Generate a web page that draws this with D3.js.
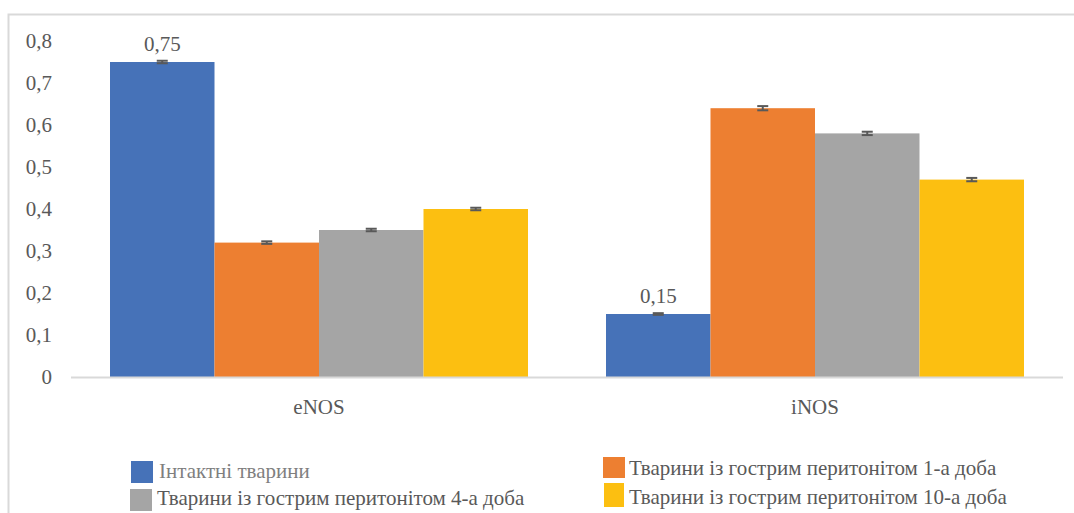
<!DOCTYPE html>
<html><head><meta charset="utf-8">
<script src="https://cdn.jsdelivr.net/npm/d3@7"></script>
</head><body style="margin:0">
<script>
const categories = ["eNOS", "iNOS"];
const seriesNames = ["Інтактні тварини", "Тварини із гострим перитонітом 1-а доба", "Тварини із гострим перитонітом 4-а доба", "Тварини із гострим перитонітом 10-а доба"];
const seriesColors = ["#4672b8", "#ed7f31", "#a5a5a5", "#fcbf11"];
const eNOSValues = [0.75, 0.32, 0.35, 0.40];
const iNOSValues = [0.15, 0.64, 0.58, 0.47];
const eNOSErrors = [0.003, 0.003, 0.003, 0.003];
const iNOSErrors = [0.002, 0.005, 0.004, 0.004];
const dataLabels = [["0,75", null, null, null], ["0,15", null, null, null]];
const yTicks = [0, 0.1, 0.2, 0.3, 0.4, 0.5, 0.6, 0.7, 0.8];

const values = [eNOSValues, iNOSValues];
const errors = [eNOSErrors, iNOSErrors];
const W = 1074, H = 513;
const svg = d3.select("body").append("svg").attr("width", W).attr("height", H)
  .style("display", "block").attr("font-family", "Times New Roman");
const txt = "#595959";
const fs = 21;

function addText(sel) {
  return sel.append("text").style("font-family", "Times New Roman").style("font-size", fs + "px").attr("fill", txt);
}

svg.append("rect").attr("x", 8.5).attr("y", 14.5).attr("width", 1100).attr("height", 600)
  .attr("fill", "none").attr("stroke", "#d9d9d9").attr("stroke-width", 2);

const x0 = d3.scaleBand().domain(categories).range([71, 1063]).paddingInner(0).paddingOuter(0);
const groupPad = 78 / 2;
const x1 = d3.scaleBand().domain(d3.range(4)).range([0, x0.bandwidth() - 2 * groupPad]);
const y = d3.scaleLinear().domain([0, 0.8]).range([377, 41]);

const yg = svg.append("g");
yTicks.forEach(t => {
  addText(yg).attr("x", 52).attr("y", y(t)).attr("dy", "0.35em").attr("text-anchor", "end")
    .text(t === 0 ? "0" : d3.format(".1f")(t).replace(".", ","));
});

const groups = svg.append("g").selectAll("g").data(categories).join("g")
  .attr("transform", d => `translate(${x0(d) + groupPad},0)`);

groups.each(function(cat, ci) {
  const g = d3.select(this);
  g.selectAll("rect").data(values[ci]).join("rect")
    .attr("x", (d, i) => x1(i)).attr("width", x1.bandwidth())
    .attr("y", d => y(d)).attr("height", d => y(0) - y(d))
    .attr("fill", (d, i) => seriesColors[i]);
  values[ci].forEach((v, i) => {
    const cx = x1(i) + x1.bandwidth() / 2;
    const e = errors[ci][i];
    const eb = g.append("g").attr("stroke", "#595959").attr("stroke-width", 2);
    eb.append("line").attr("x1", cx).attr("x2", cx).attr("y1", y(v + e)).attr("y2", y(v - e));
    eb.append("line").attr("x1", cx - 5.5).attr("x2", cx + 5.5).attr("y1", y(v + e)).attr("y2", y(v + e));
    eb.append("line").attr("x1", cx - 5.5).attr("x2", cx + 5.5).attr("y1", y(v - e)).attr("y2", y(v - e));
    if (dataLabels[ci][i]) {
      addText(g).attr("x", cx).attr("y", y(v) - 11).attr("text-anchor", "middle").text(dataLabels[ci][i]);
    }
  });
});

svg.append("line").attr("x1", 71).attr("x2", 1063).attr("y1", y(0) + 0.5).attr("y2", y(0) + 0.5)
  .attr("stroke", "#d9d9d9").attr("stroke-width", 2);

const xg = svg.append("g");
categories.forEach(c => {
  addText(xg).attr("x", x0(c) + x0.bandwidth() / 2).attr("y", 414).attr("text-anchor", "middle").text(c);
});

const legendPos = [[131, 461, 22, 22, 159, 478], [603, 457, 22, 21, 629, 475], [130, 489, 22, 22, 157, 505], [604, 483, 20, 24, 629, 504]];
const leg = svg.append("g");
seriesNames.forEach((n, i) => {
  const p = legendPos[i];
  leg.append("rect").attr("x", p[0]).attr("y", p[1]).attr("width", p[2]).attr("height", p[3]).attr("fill", seriesColors[i]);
  addText(leg).attr("x", p[4]).attr("y", p[5]).attr("fill", i === 0 ? "#7f7f7f" : txt).text(n);
});
</script>
</body></html>
